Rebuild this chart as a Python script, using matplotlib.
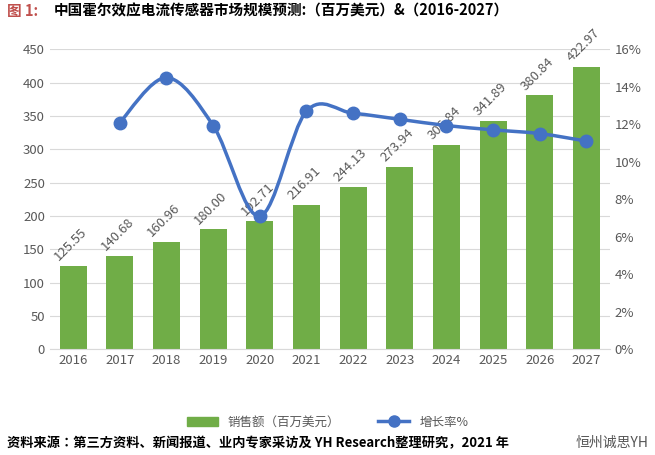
import matplotlib.pyplot as plt
import numpy as np
from matplotlib import font_manager
from matplotlib.path import Path
from matplotlib.patches import PathPatch
from matplotlib.lines import Line2D

# find a CJK font file and register it
cjk_name = 'Noto Sans CJK SC'
for f in font_manager.findSystemFonts():
    if 'CJK' in f or 'cjk' in f.lower():
        try:
            font_manager.fontManager.addfont(f)
            cjk_name = font_manager.FontProperties(fname=f).get_name()
            if 'SC' in cjk_name:
                break
        except Exception:
            pass
plt.rcParams['font.family'] = [cjk_name, 'DejaVu Sans']

years = ['2016', '2017', '2018', '2019', '2020', '2021', '2022', '2023',
         '2024', '2025', '2026', '2027']
sales = [125.55, 140.68, 160.96, 180.00, 192.71, 216.91, 244.13, 273.94,
         306.84, 341.89, 380.84, 422.97]
growth = [12.09, 14.48, 11.93, 7.10, 12.69, 12.58, 12.26, 11.93, 11.70,
          11.50, 11.10]

green = '#70ad47'
blue = '#4472c4'

fig = plt.figure(figsize=(6.55, 4.55), dpi=100)
ax = fig.add_axes([0.076, 0.232, 0.855, 0.66])
x = np.arange(len(years))
ax.bar(x, sales, width=0.58, color=green, zorder=2)
for xi, v in zip(x, sales):
    ax.text(xi - 0.05, v + 4, f'{v:.2f}', rotation=45, ha='center', va='bottom',
            fontsize=9.5, color='#595959', zorder=5)
ax.set_ylim(0, 450)
ax.set_yticks(range(0, 451, 50))
ax.set_xlim(-0.5, len(years) - 0.5)
ax.set_xticks(x)
ax.set_xticklabels(years)
ax.grid(axis='y', color='#d9d9d9', lw=0.8, zorder=0)
ax.set_axisbelow(True)
for s in ['top', 'right', 'left']:
    ax.spines[s].set_visible(False)
ax.spines['bottom'].set_color('#d9d9d9')
ax.tick_params(length=0, labelsize=9.5, colors='#595959')

ax2 = ax.twinx()
ax2.set_ylim(0, 16)
ax2.set_yticks(range(0, 17, 2))
ax2.set_yticklabels([f'{t}%' for t in range(0, 17, 2)])
ax2.tick_params(length=0, labelsize=9.5, colors='#595959')
for s in ax2.spines.values():
    s.set_visible(False)

# smooth (Catmull-Rom style) curve through the growth points
gx = x[1:].astype(float)
gy = np.array(growth)
verts = [(gx[0], gy[0])]
codes = [Path.MOVETO]
for i in range(len(gx) - 1):
    p0 = (gx[max(i - 1, 0)], gy[max(i - 1, 0)])
    p1 = (gx[i], gy[i])
    p2 = (gx[i + 1], gy[i + 1])
    p3 = (gx[min(i + 2, len(gx) - 1)], gy[min(i + 2, len(gx) - 1)])
    c1 = (p1[0] + (p2[0] - p0[0]) / 6, p1[1] + (p2[1] - p0[1]) / 6)
    c2 = (p2[0] - (p3[0] - p1[0]) / 6, p2[1] - (p3[1] - p1[1]) / 6)
    verts += [c1, c2, p2]
    codes += [Path.CURVE4] * 3
ax2.add_patch(PathPatch(Path(verts, codes), fill=False, edgecolor=blue, lw=2.5, zorder=3))
ax2.plot(gx, gy, 'o', color=blue, ms=9, zorder=4)

handles = [plt.Rectangle((0, 0), 1, 1, color=green),
           Line2D([], [], color=blue, lw=2.5, marker='o', ms=8)]
fig.legend(handles, ['销售额（百万美元）', '增长率%'], loc='center',
           bbox_to_anchor=(0.5, 0.072), ncol=2, frameon=False, fontsize=9,
           labelcolor='#595959', columnspacing=3, handlelength=2.5)

fig.text(0.01, 0.965, '图 1:', color='#c0504d', fontsize=10.5, fontweight='bold')
fig.text(0.082, 0.965, '中国霍尔效应电流传感器市场规模预测:（百万美元）&（2016-2027）',
         fontsize=10.5, fontweight='bold')
fig.text(0.01, 0.018, '资料来源：第三方资料、新闻报道、业内专家采访及 YH Research整理研究，2021 年',
         fontsize=9.5, fontweight='bold')
fig.text(0.99, 0.018, '恒州诚思YH', fontsize=10, color='#555555', ha='right')

fig.savefig('out.png', dpi=100)
